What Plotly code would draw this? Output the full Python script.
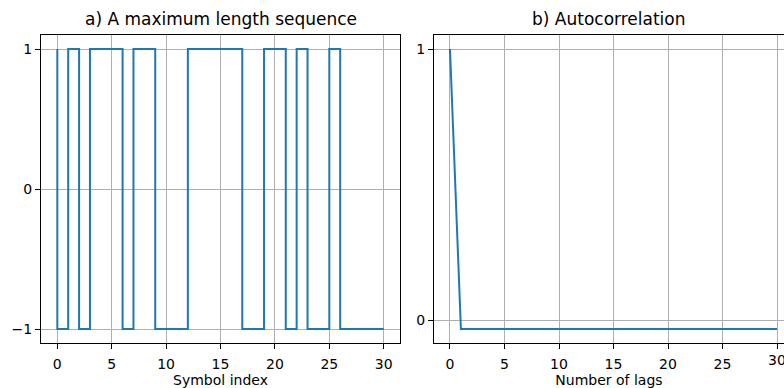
import plotly.graph_objects as go

# Data
symbol_index = list(range(31))
sequence = [1, -1, 1, -1, 1, 1, 1, -1, 1, 1, -1, -1, -1, 1, 1, 1, 1, 1,
            -1, -1, 1, 1, -1, 1, -1, -1, 1, -1, -1, -1, -1]
lags = list(range(31))
autocorr = [1.0] + [-0.032] * 30

x_ticks = [0, 5, 10, 15, 20, 25, 30]
blue = "#1f77b4"
font = "DejaVu Sans"

fig = go.Figure()
fig.add_trace(go.Scatter(x=symbol_index, y=sequence, mode="lines",
                         line=dict(color=blue, width=2, shape="vh"),
                         xaxis="x", yaxis="y", showlegend=False))
fig.add_trace(go.Scatter(x=lags, y=autocorr, mode="lines",
                         line=dict(color=blue, width=2),
                         xaxis="x2", yaxis="y2", showlegend=False))

common = dict(showgrid=True, gridcolor="#b0b0b0", gridwidth=1,
              showline=True, linecolor="black", linewidth=1,
              ticks="outside", ticklen=5, tickcolor="black",
              tickfont=dict(family=font, size=14, color="black"),
              zeroline=False)
title_font = dict(family=font, size=14, color="black")

fig.update_layout(
    width=784, height=388,
    margin=dict(l=41, r=0, t=35, b=45),
    paper_bgcolor="white", plot_bgcolor="white",
    xaxis=dict(domain=[0, 0.4832], range=[-1.5, 31.5], tickvals=x_ticks,
               mirror=True, anchor="y", ticklabelstandoff=3,
               title=dict(text="Symbol index", font=title_font, standoff=5),
               **common),
    yaxis=dict(domain=[0, 1], range=[-1.1, 1.1], tickvals=[-1, 0, 1],
               ticktext=["\u22121", "0", "1"], mirror=True, anchor="x", **common),
    xaxis2=dict(domain=[0.5289, 1], range=[-1.47, 30.64], tickvals=x_ticks,
                mirror=True, anchor="y2", ticklabelstandoff=3,
                title=dict(text="Number of lags", font=title_font, standoff=5),
                **common),
    yaxis2=dict(domain=[0, 1], range=[-0.0839, 1.0516], tickvals=[0, 1],
                ticktext=["0", "1"], mirror=False, anchor="x2", **common),
    annotations=[
        dict(text="a) A maximum length sequence", x=0.2416, y=1, xref="paper", yref="paper",
             xanchor="center", yanchor="bottom", yshift=4, showarrow=False,
             font=dict(family=font, size=17, color="black")),
        dict(text="b) Autocorrelation", x=0.7645, y=1, xref="paper", yref="paper",
             xanchor="center", yanchor="bottom", yshift=4, showarrow=False,
             font=dict(family=font, size=17, color="black")),
        dict(text=str(x_ticks[-1]), x=x_ticks[-1], y=0, xref="x2", yref="paper",
             xanchor="center", yanchor="top", yshift=-7, showarrow=False,
             font=dict(family=font, size=14, color="black")),
    ],
)

fig.write_html("out.html")
